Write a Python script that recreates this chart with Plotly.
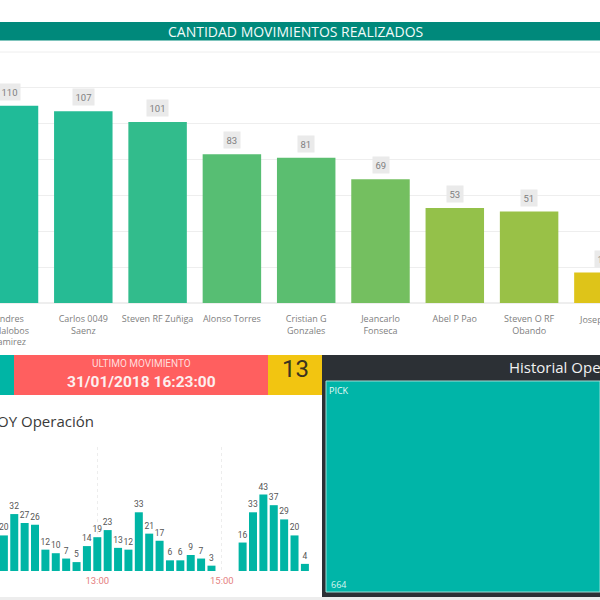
import plotly.graph_objects as go

# ---- data ----
operators = ["Andres<br>Villalobos<br>Ramirez", "Carlos 0049<br>Saenz", "Steven RF Zuñiga", "Alonso Torres",
             "Cristian G<br>Gonzales", "Jeancarlo<br>Fonseca", "Abel P Pao", "Steven O RF<br>Obando", "Josep"]
movements = [110, 107, 101, 83, 81, 69, 53, 51, 17]

times = ["11:30", "11:40", "11:50", "12:00", "12:10", "12:20", "12:30", "12:40", "12:50",
         "13:00", "13:10", "13:20", "13:30", "13:40", "13:50", "14:00", "14:10", "14:20",
         "14:30", "14:40", "14:50", "15:20", "15:30", "15:40", "15:50", "16:00", "16:10", "16:20"]
today_counts = [20, 32, 27, 26, 12, 10, 7, 5, 14, 19, 23, 13, 12, 33, 21, 17, 6, 6, 9, 7, 3,
                16, 33, 43, 37, 29, 20, 4]
DAY = "2018-01-31 "

treemap_labels = ["PICK"]
treemap_values = [664]

main_title = "CANTIDAD MOVIMIENTOS REALIZADOS"
last_title = "ULTIMO MOVIMIENTO"
last_value = "<b>31/01/2018 16:23:00</b>"
kpi_value = "13"
today_title = "HOY Operación"
history_title = "Historial Operación"

# ---- helpers ----
W = H = 600.0
def fx(px): return px / W
def fy(py): return 1 - py / H

X0 = -9.0 / 74.3
X1 = (600.0 - 9.0) / 74.3
def cat_px(i): return (i - X0) / (X1 - X0) * W

SANS = "Open Sans, Noto Sans, sans-serif"
ROBOTO = "Roboto, sans-serif"

fig = go.Figure()

fig.add_trace(go.Bar(
    x=list(range(len(operators))), y=movements, width=0.787, xaxis="x", yaxis="y",
    marker=dict(color=movements, colorscale=[[0, "#DEC419"], [1, "#20BB98"]], cmin=17, cmax=110,
                showscale=False, line_width=0),
    hoverinfo="skip"))

fig.add_trace(go.Bar(
    x=[DAY + t for t in times], y=today_counts, width=8.0 / 10.38 * 600000, xaxis="x2", yaxis="y2",
    marker=dict(color="#00B5A5", line_width=0),
    text=today_counts, textposition="outside", cliponaxis=False, constraintext="none",
    textfont=dict(family=ROBOTO, size=8.5, color="#555555"),
    hoverinfo="skip"))

fig.add_trace(go.Treemap(
    labels=treemap_labels, parents=[""] * len(treemap_labels), values=treemap_values,
    domain=dict(x=[fx(326), 1], y=[fy(592), fy(381)]),
    marker=dict(colors=["#00B5A8"], line=dict(color="#9FDDD6", width=1), pad=dict(t=0, l=0, r=0, b=0)),
    textinfo="label", textposition="top left",
    textfont=dict(family=SANS, size=9, color="#E6FAF7"),
    pathbar=dict(visible=False), hoverinfo="skip", tiling=dict(pad=0), root=dict(color="#00B5A8")))

def rect(x0, y0, x1, y1, color):
    return dict(type="rect", xref="paper", yref="paper", x0=fx(x0), x1=fx(x1), y0=fy(y1), y1=fy(y0),
                fillcolor=color, line_width=0, layer="below")

shapes = [
    rect(0, 22, 600, 40.5, "#00897B"),
    rect(0, 355, 14, 395, "#00B5A5"),
    rect(14, 355, 268, 395, "#FF5F5F"),
    rect(268, 355, 322, 395, "#F2C511"),
    rect(322, 355, 600, 597, "#2C3035"),
    rect(0, 597, 600, 600, "#EDEDED"),
    dict(type="line", xref="x domain", yref="y", x0=0, x1=1, y0=140, y1=140,
         line=dict(color="#EEEEEE", width=1), layer="below"),
]

def txt(x, y, text, size, color, family=SANS, xanchor="center", yanchor="middle"):
    return dict(xref="paper", yref="paper", x=fx(x), y=fy(y), text=text, showarrow=False,
                xanchor=xanchor, yanchor=yanchor, font=dict(family=family, size=size, color=color),
                borderpad=0, borderwidth=0)

annotations = [
    txt(295, 31.5, main_title, 14, "#F2FBFA"),
    txt(141, 363, last_title, 10, "#FFDCDC", family=ROBOTO),
    txt(141, 382, last_value, 15.5, "#FDEFEF", family=ROBOTO),
    txt(295, 369, kpi_value, 24, "#3A3420", family=ROBOTO),
    txt(94, 421, today_title, 15, "#3A3A3A", xanchor="right"),
    txt(509, 367, history_title, 15, "#F2F2F2", xanchor="left"),
    txt(331, 584, str(treemap_values[0]), 9, "#D8F5F1", xanchor="left"),
]
for i, v in enumerate(movements):
    a = dict(y=v, yref="y", text=str(v), showarrow=False, yanchor="bottom", yshift=5,
             bgcolor="#EAEAEA", borderpad=2.5, font=dict(family=ROBOTO, size=9.5, color="#808080"))
    if X0 <= i <= X1:
        a.update(x=i, xref="x", xanchor="center")
    else:
        a.update(x=fx(cat_px(i)), xref="paper", xanchor="center")
    annotations.append(a)

# label of the last category, whose centre falls past the page edge
annotations.append(dict(x=fx(cat_px(8) - 26), xref="paper", y=fy(319), yref="paper", text=operators[8],
                        showarrow=False, xanchor="left", yanchor="middle",
                        font=dict(family=SANS, size=9, color="#808080")))

MIN = 60000
x2_start_ms = -(97.3 / 10.38) * 10  # minutes before 13:00
x2_end_ms = (320 - 97.3) / 10.38 * 10

def hm(m):
    total = 13 * 60 * 60 + int(round(m * 60))
    return f"{total // 3600:02d}:{(total % 3600) // 60:02d}:{total % 60:02d}"

fig.update_layout(
    width=600, height=600, margin=dict(l=0, r=0, t=0, b=0, autoexpand=False),
    paper_bgcolor="white", plot_bgcolor="rgba(0,0,0,0)",
    showlegend=False, barmode="overlay",
    shapes=shapes, annotations=annotations,
    xaxis=dict(domain=[0, 1], anchor="y", range=[X0, X1], tickmode="array", automargin=False,
               tickvals=list(range(8)), ticktext=operators[:8], ticklabeloverflow="allow",
               ticklabelstandoff=9,
               showgrid=False, zeroline=False, showline=False, ticks="",
               tickfont=dict(family=SANS, size=9, color="#808080")),
    yaxis=dict(domain=[fy(303), fy(51)], anchor="x", range=[0, 140.56], dtick=20, automargin=False,
               showticklabels=False, ticks="", showgrid=True, gridcolor="#EEEEEE", gridwidth=1,
               zeroline=True, zerolinecolor="#EEEEEE"),
    xaxis2=dict(domain=[0, fx(320)], anchor="y2", type="date", automargin=False,
                range=[DAY + hm(x2_start_ms), DAY + hm(x2_end_ms)],
                dtick=2 * 60 * MIN, tick0=DAY + "13:00", tickformat="%H:%M",
                showgrid=True, griddash="dot", gridcolor="#EDEDED", gridwidth=1,
                zeroline=False, showline=False, ticks="",
                ticklabeloverflow="allow", ticklabelstandoff=2,
                tickfont=dict(family=ROBOTO, size=9.5, color="#E57F7F")),
    yaxis2=dict(domain=[fy(571), fy(447)], anchor="x2", range=[0, 69.7], automargin=False,
                showgrid=False, showticklabels=False, ticks="", zeroline=False),
)

fig.write_html("out.html", config=dict(displayModeBar=False),
               post_script="document.body.style.margin='0';document.body.style.overflow='hidden';")
